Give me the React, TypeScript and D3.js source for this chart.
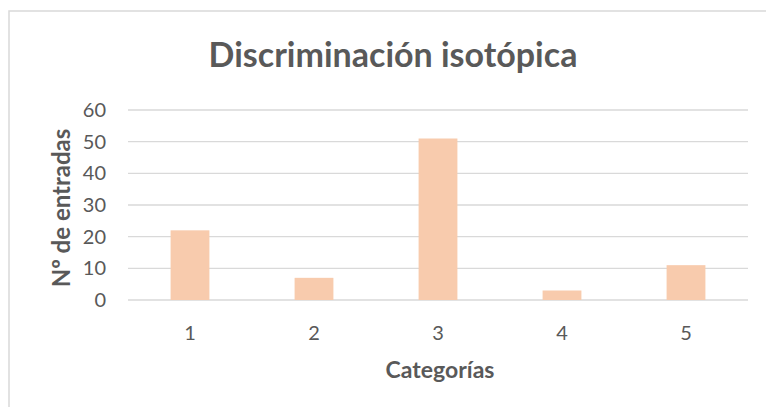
import React from "react";
import * as d3 from "d3";

const categories = ["1", "2", "3", "4", "5"];
const values = [22, 7, 51, 3, 11];
const yTicks = [0, 10, 20, 30, 40, 50, 60];
const title = "Discriminación isotópica";
const xTitle = "Categorías";
const yTitle = "Nº de entradas";

export default function App() {
  const W = 766, H = 407;
  const left = 128, right = 748, top = 110, bottom = 300;
  const x = d3.scaleBand<string>().domain(categories).range([left, right]).paddingInner(0.687).paddingOuter(0.3435);
  const y = d3.scaleLinear().domain([0, 60]).range([bottom, top]);
  const font = "Lato, 'Open Sans', sans-serif";
  const text = "#595959";
  return (
    <svg width={W} height={H} style={{ position: "absolute", left: 0, top: 0, background: "#fff" }}>
      <rect x={9} y={11} width={W} height={H} fill="#fff" stroke="#D9D9D9" strokeWidth={1.5} />
      <text x={393} y={67} textAnchor="middle" fontFamily={font} fontWeight="bold" fontSize={34} fill={text}>{title}</text>
      {yTicks.map((t) => (
        <g key={t}>
          <line x1={left} x2={right} y1={y(t)} y2={y(t)} stroke="#D9D9D9" strokeWidth={1.3} />
          <text x={106} y={y(t)} dy="0.35em" textAnchor="end" fontFamily={font} fontSize={20} fill={text}>{t}</text>
        </g>
      ))}
      {categories.map((c, i) => (
        <rect key={c} x={x(c)} y={y(values[i])} width={x.bandwidth()} height={y(0) - y(values[i])} fill="#F8CBAD" />
      ))}
      {categories.map((c) => (
        <text key={c} x={(x(c) as number) + x.bandwidth() / 2} y={333} dy="0.35em" textAnchor="middle" fontFamily={font} fontSize={20} fill={text}>{c}</text>
      ))}
      <text x={440} y={370} dy="0.35em" textAnchor="middle" fontFamily={font} fontWeight="bold" fontSize={23} fill={text}>{xTitle}</text>
      <text transform={`translate(62,208) rotate(-90)`} dy="0.35em" textAnchor="middle" fontFamily={font} fontWeight="bold" fontSize={24} fill={text}>{yTitle}</text>
    </svg>
  );
}
